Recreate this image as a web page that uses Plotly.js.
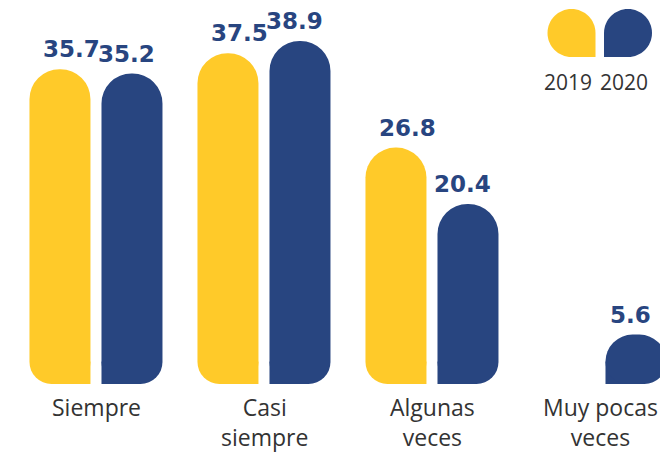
<!DOCTYPE html>
<html>
<head>
<meta charset="utf-8">
<script src="https://cdn.plot.ly/plotly-3.0.1.min.js"></script>
<style>html,body{margin:0;padding:0;background:#fff;}#chart{width:660px;height:452px;}</style>
</head>
<body>
<div id="chart"></div>
<script>
// ---- data ----
const categories = ['Siempre', 'Casi siempre', 'Algunas veces', 'Muy pocas veces'];
const categoryLabels = ['Siempre', 'Casi<br>siempre', 'Algunas<br>veces', 'Muy pocas<br>veces'];
const years = ['2019', '2020'];
const values2019 = [35.7, 37.5, 26.8, null];
const values2020 = [35.2, 38.9, 20.4, 5.6];

// ---- style ----
const YELLOW = '#FFCA29';
const BLUE = '#284580';
const TEXT = '#333333';
const BW = 0.363;             // bar width (category units)
const OFF = [-0.396, 0.0327]; // bar offsets
const PX_PER_UNIT = 8.82;
const S = 22 / PX_PER_UNIT;   // height of the bottom rounded piece (value units)
const PX_L = 12, PLOT_W = 648, PLOT_H = 384;
const YMAX = PLOT_H / PX_PER_UNIT;

function seriesTraces(vals, color, offset, innerRight) {
  const common = {type: 'bar', x: categories, hoverinfo: 'skip', showlegend: false};
  const nz = f => vals.map(v => v == null ? null : f(v));
  return [
    // upper body with round top (axis y2 has its zero at the seam level)
    Object.assign({}, common, {
      yaxis: 'y2', y: nz(v => v - S), width: BW, offset: offset,
      marker: {color: color, cornerradius: '50%', line: {width: 0}}
    }),
    // bottom piece, pointing down from the seam, rounded at its lower end
    Object.assign({}, common, {
      yaxis: 'y2', y: nz(() => -S), width: BW, offset: offset,
      marker: {color: color, cornerradius: 22, line: {width: 0}}
    }),
    // square inner bottom corner
    Object.assign({}, common, {
      y: nz(() => S * 1.02), width: BW / 2,
      offset: innerRight ? offset + BW / 2 : offset,
      marker: {color: color, line: {width: 0}}
    })
  ];
}

const traces = [].concat(
  seriesTraces(values2019, YELLOW, OFF[0], true),
  seriesTraces(values2020, BLUE, OFF[1], false)
);

const annotations = [];
[[values2019, OFF[0], 12], [values2020, OFF[1], -5]].forEach(([vals, off, xs]) => {
  vals.forEach((v, i) => {
    if (v == null) return;
    annotations.push({
      x: i + off + BW / 2, y: v, xref: 'x', yref: 'y',
      text: v.toFixed(1), showarrow: false, yanchor: 'bottom', xanchor: 'center',
      xshift: xs, yshift: 5,
      font: {family: 'DejaVu Sans', size: 23, color: BLUE, weight: 'bold'}
    });
  });
});
categoryLabels.forEach((lab, i) => {
  annotations.push({
    x: i, y: 0, xref: 'x', yref: 'paper', text: lab, showarrow: false,
    yanchor: 'top', xanchor: 'center', yshift: -6, borderpad: 0,
    font: {family: 'Open Sans', size: 23, color: TEXT}
  });
});

// legend (drawn as shapes + text)
const legendX = [547.5, 604];
const legendY = 57; // bottom pixel of legend symbol
const k = 13.25;
const paths = [
  `M 48 0 L 48 24 C 48 ${24 + k} ${24 + k} 48 24 48 C ${24 - k} 48 0 ${24 + k} 0 24 C 0 ${24 - k} ${24 - k} 0 24 0 Z`,
  `M 0 0 L 0 24 C 0 ${24 + k} ${24 - k} 48 24 48 C ${24 + k} 48 48 ${24 + k} 48 24 C 48 ${24 - k} ${24 + k} 0 24 0 Z`
];
const shapes = years.map((yr, i) => ({
  type: 'path', xref: 'paper', yref: 'paper', xsizemode: 'pixel', ysizemode: 'pixel',
  xanchor: (legendX[i] - PX_L) / PLOT_W, yanchor: (PLOT_H - legendY) / PLOT_H,
  path: paths[i], fillcolor: i === 0 ? YELLOW : BLUE, line: {width: 0}
}));
years.forEach((yr, i) => {
  annotations.push({
    x: (legendX[i] + 20 - PX_L) / PLOT_W, y: (PLOT_H - 66) / PLOT_H, xref: 'paper', yref: 'paper',
    text: yr, showarrow: false, xanchor: 'center', yanchor: 'top',
    font: {family: 'Open Sans', size: 21, color: TEXT}
  });
});

const layout = {
  width: 660, height: 452,
  margin: {l: PX_L, r: 0, t: 0, b: 68, pad: 0},
  paper_bgcolor: '#ffffff', plot_bgcolor: '#ffffff',
  barmode: 'overlay',
  showlegend: false,
  xaxis: {type: 'category', range: [-0.5, -0.5 + PLOT_W / 168], showticklabels: false,
          showgrid: false, zeroline: false, showline: false, ticks: '', fixedrange: true},
  yaxis: {range: [0, YMAX], visible: false, showgrid: false, zeroline: false, fixedrange: true},
  yaxis2: {range: [-S, YMAX - S], overlaying: 'y', visible: false, showgrid: false, zeroline: false, fixedrange: true},
  annotations: annotations,
  shapes: shapes
};

Plotly.newPlot('chart', traces, layout, {displayModeBar: false, staticPlot: true});
</script>
</body>
</html>
